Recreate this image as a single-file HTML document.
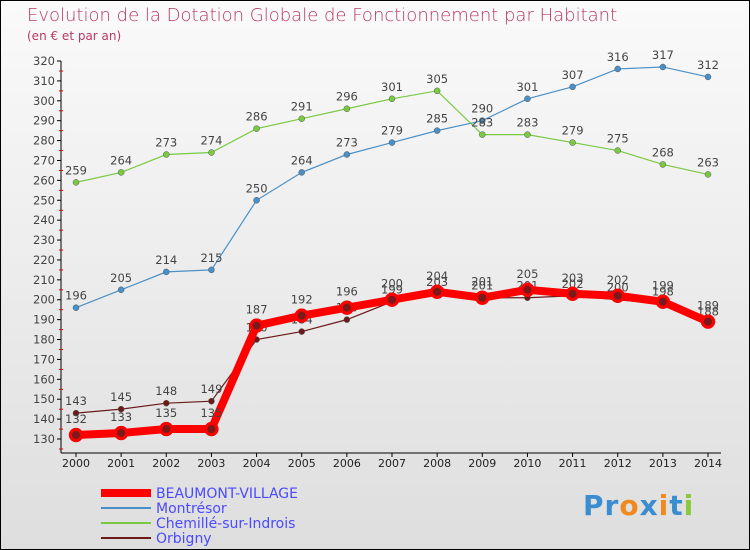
<!DOCTYPE html>
<html><head><meta charset="utf-8"><style>
body{margin:0;}
#wrap{width:748px;height:548px;border:1px solid #000;position:relative;background:linear-gradient(#fafafa,#dedede);font-family:"DejaVu Sans","Liberation Sans",sans-serif;overflow:hidden}
.t{position:absolute;color:#b83a64}
</style></head><body>
<div id="wrap">
<div class="t" style="left:26px;top:4px;font-size:18px;font-weight:300">Evolution de la Dotation Globale de Fonctionnement par Habitant</div>
<div class="t" style="left:26px;top:28px;font-size:12px">(en € et par an)</div>
<svg id="c" width="750" height="550" style="position:absolute;left:0;top:0"></svg>
<div style="position:absolute;left:582px;top:488px;font-size:28px;font-weight:bold;letter-spacing:1px"><span style="color:#3a8ed0">Pr</span><span style="color:#f08a20">o</span><span style="color:#3a8ed0">x</span><span style="color:#f08a20">i</span><span style="color:#3a8ed0">t</span><span style="color:#8cc83c">i</span></div>
</div>
<script>
const years=[2000,2001,2002,2003,2004,2005,2006,2007,2008,2009,2010,2011,2012,2013,2014];
const yTicks=[130,140,150,160,170,180,190,200,210,220,230,240,250,260,270,280,290,300,310,320];
const beaumont=[132,133,135,135,187,192,196,200,204,201,205,203,202,199,189];
const montresor=[196,205,214,215,250,264,273,279,285,290,301,307,316,317,312];
const chemille=[259,264,273,274,286,291,296,301,305,283,283,279,275,268,263];
const orbigny=[143,145,148,149,180,184,190,199,203,201,201,202,200,198,188];
const NS="http://www.w3.org/2000/svg";
const svg=document.getElementById('c');
const X=i=>75+i*(707-75)/14;
const Y=v=>438-(v-130)*(438-60)/190;
function mk(t,a,p){const e=document.createElementNS(NS,t);for(const k in a)e.setAttribute(k,a[k]);(p||svg).appendChild(e);return e;}
let ax=mk('line',{x1:60,y1:60,x2:60,y2:452,stroke:'#000'});


let bx=mk('line',{x1:60,y1:452,x2:720,y2:452,stroke:'#000'});


yTicks.forEach(v=>{
  mk('line',{x1:56,x2:60,y1:Y(v),y2:Y(v),stroke:'#000'});
  mk('line',{x1:58,x2:62,y1:Y(v)+10,y2:Y(v)+10,stroke:'#e00'});
  const t=mk('text',{x:54,y:Y(v)+4,'text-anchor':'end','font-size':11.5,fill:'#444'});t.textContent=v;
  
  
});
years.forEach((y,i)=>{
  mk('line',{x1:X(i),x2:X(i),y1:452,y2:456,stroke:'#000'});
  const t=mk('text',{x:X(i),y:466,'text-anchor':'middle','font-size':11,fill:'#222'});t.textContent=y;
  
  
});
function series(name,vals,color,w,r,labelOff){
  const g=mk('g',{});
  
  
  mk('polyline',{points:vals.map((v,i)=>X(i)+','+Y(v)).join(' '),fill:'none',stroke:color,'stroke-width':w},g);
  vals.forEach((v,i)=>{
    const c=mk('circle',{cx:X(i),cy:Y(v),r:r,fill:color,stroke:color==='#f00'?'#e00':'#555','stroke-width':0.5},g);
    
    
    if(color==='#f00')mk('circle',{cx:X(i),cy:Y(v),r:4,fill:'#7a1a1a'},g);
    const t=mk('text',{x:X(i),y:Y(v)+labelOff,'text-anchor':'middle','font-size':11.5,fill:'#444'},g);t.textContent=v;
  });
}
series('series-montresor',montresor,'#4a90c8',1.2,3,-8);
series('series-chemille',chemille,'#7ac943',1.2,3,-8);
series('series-orbigny',orbigny,'#6b1a1a',1.2,3,-8);
series('series-beaumont',beaumont,'#f00',8,7,-12);
const leg=[['BEAUMONT-VILLAGE','#f00',8],['Montrésor','#4a90c8',2],['Chemillé-sur-Indrois','#7ac943',2],['Orbigny','#6b1a1a',2]];
leg.forEach((l,i)=>{
  const g=mk('g',{});
  
  
  const y=492+i*15;
  mk('line',{x1:100,x2:150,y1:y,y2:y,stroke:l[1],'stroke-width':l[2]},g);
  const t=mk('text',{x:155,y:y+5,'font-size':14,fill:'#4a4aff'},g);t.textContent=l[0];
});
</script>
</body></html>
